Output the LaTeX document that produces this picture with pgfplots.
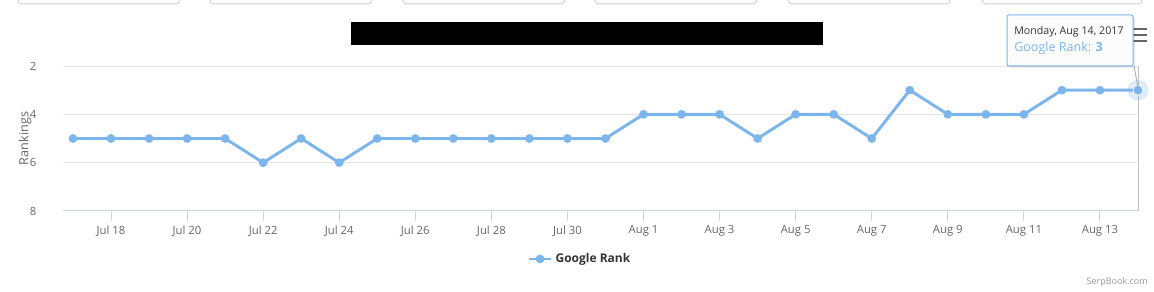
\documentclass[border=0pt]{standalone}
\usepackage{pgfplots}
\pgfplotsset{compat=1.18}
\usepackage{fontspec}
\setmainfont{Open Sans}
\definecolor{series}{HTML}{7CB5EC}
\definecolor{gridc}{HTML}{E6E6E6}
\definecolor{axisline}{HTML}{CCD6EB}
\definecolor{labelc}{HTML}{666666}
\definecolor{dark}{HTML}{333333}
\definecolor{credit}{HTML}{999999}
\pgfplotstableread{
day rank
0 5
1 5
2 5
3 5
4 5
5 6
6 5
7 6
8 5
9 5
10 5
11 5
12 5
13 5
14 5
15 4
16 4
17 4
18 5
19 4
20 4
21 5
22 3
23 4
24 4
25 4
26 3
27 3
28 3
}\ranktable
\newcommand{\PX}[2]{({#1*0.75pt},{(292-#2)*0.75pt})}
\begin{document}
\begin{tikzpicture}
\path[use as bounding box] (0,0) rectangle (865.5pt,219pt);
% top buttons
\foreach \a/\b in {18/180,210/372,403/565,595/757,788/950,982/1142}{
  \draw[draw=black!18, fill=white, line width=0.75pt, rounded corners=3pt] \PX{\a}{4} rectangle \PX{\b}{-12};
}
% redacted title
\fill[black] \PX{351}{22} rectangle \PX{823}{45};
\begin{axis}[
  at={(47.25pt,60.75pt)}, anchor=south west,
  scale only axis, width=806.25pt, height=108.75pt,
  xmin=-0.262, xmax=28, ymin=2, ymax=8, y dir=reverse,
  axis x line*=bottom, axis y line*=left,
  x axis line style={axisline, line width=0.75pt, -},
  y axis line style={draw=none},
  xtick={1,3,...,27},
  xticklabels={Jul 18,Jul 20,Jul 22,Jul 24,Jul 26,Jul 28,Jul 30,Aug 1,Aug 3,Aug 5,Aug 7,Aug 9,Aug 11,Aug 13},
  ytick={2,4,6,8},
  /pgf/number format/assume math mode=true,
  ymajorgrids, grid style={gridc, line width=0.75pt},
  tick align=outside, major tick length=7.5pt,
  x tick style={axisline, line width=0.75pt},
  y tick style={draw=none},
  tick label style={font=\fontsize{8.5}{10}\selectfont, text=labelc},
  yticklabel style={anchor=east, xshift=-9pt},
  ylabel={Rankings},
  ylabel style={at={(axis description cs:-0.0353,0.5)}, anchor=center, font=\fontsize{9.5}{10}\selectfont, text=labelc},
  clip=false,
  legend style={at={(axis description cs:0.481,-0.331)}, anchor=center, draw=none, fill=none,
    font=\bfseries\fontsize{9}{11}\selectfont, text=dark},
]
\draw[black!25, line width=0.75pt] (axis cs:28,2) -- (axis cs:28,8);
\addplot[series, line width=2.2pt, mark=*, mark size=3pt, mark options={fill=series, draw=series, solid, line width=0.5pt}] table[x=day, y=rank] {\ranktable};
\addlegendentry{Google Rank}
\addplot[series, only marks, mark=*, mark size=7.5pt, mark options={fill=series, draw=none, opacity=0.25}, forget plot] coordinates {(28,3)};
\addplot[series, only marks, mark=*, mark size=3.75pt, mark options={fill=series, draw=white, line width=0.5pt}, forget plot] coordinates {(28,3)};
\end{axis}
% export menu icon
\foreach \yy in {29,35,41}{
  \draw[labelc, line width=1.6pt] \PX{1133}{\yy} -- \PX{1147}{\yy};
}
% tooltip
\fill[black, opacity=0.08] \PX{1009}{17} rectangle \PX{1135}{68};
\draw[black!35, line width=0.6pt] \PX{1134}{66} -- \PX{1138}{88};
\draw[series, fill=white, fill opacity=0.92, line width=0.75pt, rounded corners=1.5pt] \PX{1007}{15} rectangle \PX{1133}{66};
\node[anchor=west, inner sep=0pt, font=\fontsize{8}{9}\selectfont, text=dark] at \PX{1014}{32} {Monday, Aug 14, 2017};
\node[anchor=west, inner sep=0pt, font=\fontsize{9.4}{11}\selectfont, text=series] at \PX{1014}{48} {Google Rank: \textbf{3}};
% credit
\node[anchor=east, inner sep=0pt, font=\fontsize{6.75}{8}\selectfont, text=credit] at \PX{1148}{282} {SerpBook.com};
\end{tikzpicture}
\end{document}
